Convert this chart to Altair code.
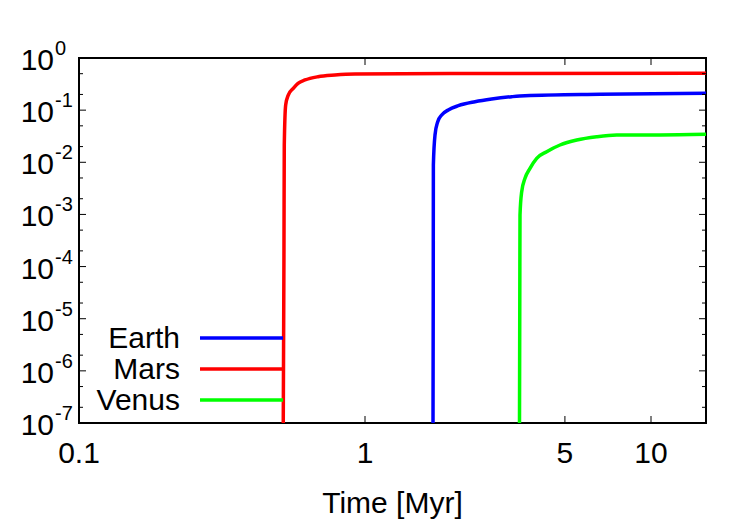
import altair as alt
import pandas as pd

# ---------------- data ----------------
series_names = ["Earth", "Mars", "Venus"]
series_colors = ["#0000ff", "#ff0000", "#00ff00"]

mars_t = [0.5178, 0.5191, 0.5208, 0.5221, 0.5280, 0.5392, 0.5614, 0.5832, 0.6168, 0.6849, 0.7854, 0.9227, 1.983, 15.57]
mars_v = [1e-7, 2.51e-6, 2.08e-4, 0.0214, 0.1255, 0.195, 0.262, 0.327, 0.379, 0.438, 0.472, 0.493, 0.504, 0.509]
earth_t = [1.729, 1.732, 1.734, 1.757, 1.796, 1.854, 1.955, 2.120, 2.424, 2.773, 3.258, 3.626, 6.63, 15.57]
earth_v = [1e-7, 2.28e-5, 8.87e-3, 0.0334, 0.060, 0.0806, 0.1007, 0.1217, 0.145, 0.1636, 0.181, 0.189, 0.201, 0.210]
venus_t = [3.469, 3.477, 3.483, 3.531, 3.626, 3.775, 3.984, 4.318, 4.806, 5.499, 6.458, 7.588, 10.75, 15.57]
venus_v = [1e-7, 2.28e-5, 9.75e-4, 2.73e-3, 4.93e-3, 7.67e-3, 0.01194, 0.01597, 0.02145, 0.02675, 0.03095, 0.03336, 0.0334, 0.0344]

x_tick_values = [0.1, 1, 5, 10]
x_tick_labels = ["0.1", "1", "5", "10"]
x_inner_ticks = [1, 5, 10]
y_major = [1e-7, 1e-6, 1e-5, 1e-4, 1e-3, 1e-2, 1e-1, 1]
y_exponents = ["-7", "-6", "-5", "-4", "-3", "-2", "-1", "0"]
y_minor = [2e-7, 5e-7, 2e-6, 5e-6, 2e-5, 5e-5, 2e-4, 5e-4, 2e-3, 5e-3, 2e-2, 5e-2, 2e-1, 5e-1]
x_title = "Time [Myr]"

x_domain = [0.1, 15.57]
y_domain = [1e-7, 1]

# ---------------- layout ----------------
W, H = 627, 365
FONT = "Liberation Sans"
FS = 30
LW = 3.5

xs = alt.Scale(type="log", domain=x_domain, nice=False, zero=False)
ys = alt.Scale(type="log", domain=y_domain, nice=False, zero=False)

rows = []
for name, ts, vs in [("Earth", earth_t, earth_v), ("Mars", mars_t, mars_v), ("Venus", venus_t, venus_v)]:
    for i, (t, v) in enumerate(zip(ts, vs)):
        rows.append({"series": name, "t": t, "v": v, "i": i})
df = pd.DataFrame(rows)

color = alt.Color("series:N", scale=alt.Scale(domain=series_names, range=series_colors), legend=None)

lines = alt.Chart(df).mark_line(strokeWidth=LW, clip=True, interpolate="monotone").encode(
    x=alt.X("t:Q", scale=xs, axis=None),
    y=alt.Y("v:Q", scale=ys, axis=None),
    color=color,
    detail="series:N",
    order="i:Q",
)

ymaj = pd.DataFrame({"v": y_major, "exp": y_exponents, "base": ["10"] * len(y_major)})
ymin = pd.DataFrame({"v": y_minor})
xin = pd.DataFrame({"t": x_inner_ticks})
xlab = pd.DataFrame({"t": x_tick_values, "lab": x_tick_labels})

tick_col = "#000000"
ymaj_l = alt.Chart(ymaj).mark_rule(color=tick_col, strokeWidth=1).encode(
    y=alt.Y("v:Q", scale=ys, axis=None), x=alt.value(0), x2=alt.value(7))
ymaj_r = alt.Chart(ymaj).mark_rule(color=tick_col, strokeWidth=1).encode(
    y=alt.Y("v:Q", scale=ys, axis=None), x=alt.value(W - 7), x2=alt.value(W))
ymin_l = alt.Chart(ymin).mark_rule(color=tick_col, strokeWidth=1).encode(
    y=alt.Y("v:Q", scale=ys, axis=None), x=alt.value(0), x2=alt.value(4))
ymin_r = alt.Chart(ymin).mark_rule(color=tick_col, strokeWidth=1).encode(
    y=alt.Y("v:Q", scale=ys, axis=None), x=alt.value(W - 4), x2=alt.value(W))
x_b = alt.Chart(xin).mark_rule(color=tick_col, strokeWidth=1).encode(
    x=alt.X("t:Q", scale=xs, axis=None), y=alt.value(H - 7), y2=alt.value(H))
x_t = alt.Chart(xin).mark_rule(color=tick_col, strokeWidth=1).encode(
    x=alt.X("t:Q", scale=xs, axis=None), y=alt.value(0), y2=alt.value(7))

ylab_base = alt.Chart(ymaj).mark_text(align="right", baseline="alphabetic", font=FONT,
                                       fontSize=FS, dy=12, color="black").encode(
    y=alt.Y("v:Q", scale=ys, axis=None), x=alt.value(-25), text="base:N")
ylab_exp = alt.Chart(ymaj).mark_text(align="left", baseline="alphabetic", font=FONT,
                                      fontSize=20, dy=-3, color="black").encode(
    y=alt.Y("v:Q", scale=ys, axis=None), x=alt.value(-24), text="exp:N")

xlabels = alt.Chart(xlab).mark_text(align="center", baseline="alphabetic", font=FONT,
                                     fontSize=FS, color="black").encode(
    x=alt.X("t:Q", scale=xs, axis=None), y=alt.value(H + 40), text="lab:N")

title = alt.Chart(pd.DataFrame({"lab": [x_title]})).mark_text(
    align="center", baseline="alphabetic", font=FONT, fontSize=FS, color="black").encode(
    x=alt.value(W / 2), y=alt.value(H + 90), text="lab:N")

legend_layers = []
for k, (name, col) in enumerate(zip(series_names, series_colors)):
    yy = 280 + 31 * k
    ld = pd.DataFrame({"lab": [name]})
    legend_layers.append(alt.Chart(ld).mark_text(align="right", baseline="alphabetic", font=FONT,
                                                 fontSize=FS, color="black").encode(
        x=alt.value(101), y=alt.value(yy + 10), text="lab:N"))
    legend_layers.append(alt.Chart(ld).mark_rule(color=col, strokeWidth=LW).encode(
        x=alt.value(121), x2=alt.value(204), y=alt.value(yy)))

chart = alt.layer(
    lines, ymaj_l, ymaj_r, ymin_l, ymin_r, x_b, x_t,
    ylab_base, ylab_exp, xlabels, title, *legend_layers
).properties(
    width=W, height=H,
    autosize="none",
    background="white",
    padding={"left": 79, "top": 58, "right": 44, "bottom": 102},
).configure_view(stroke="#000000", strokeWidth=2)

chart.save("out.html", embed_options={"renderer": "svg", "actions": False})
